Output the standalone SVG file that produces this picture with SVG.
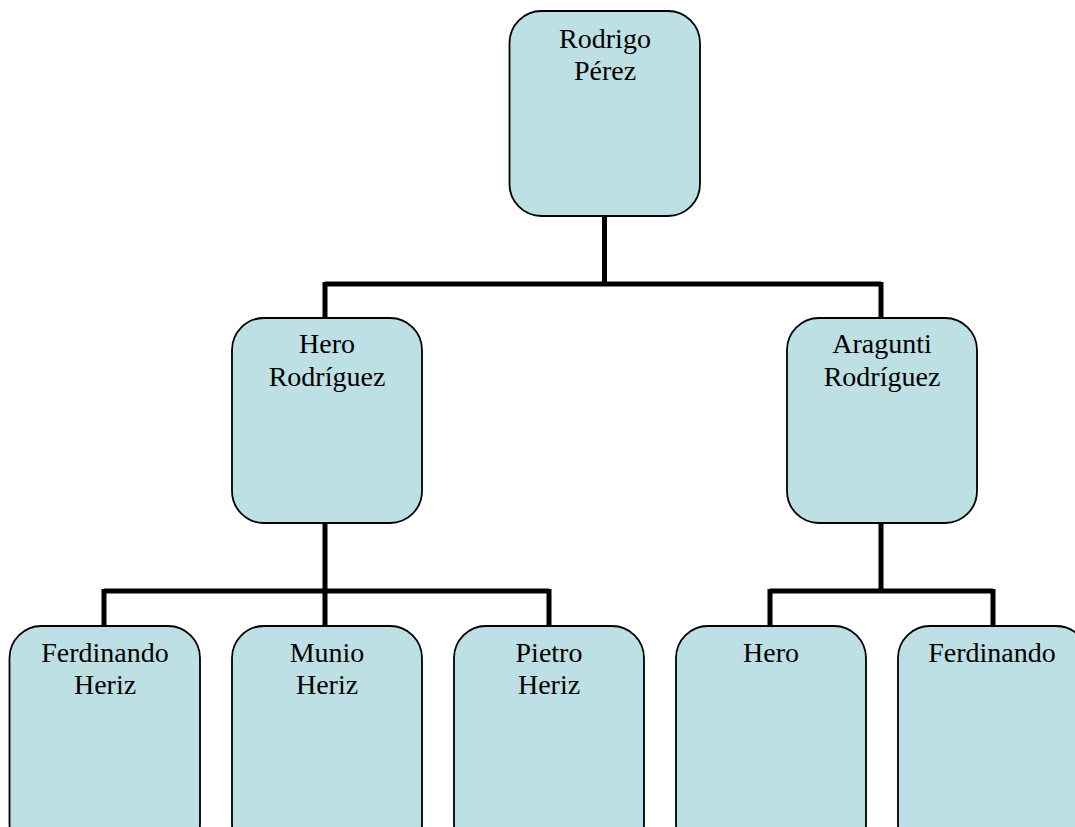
<svg xmlns="http://www.w3.org/2000/svg" width="1075" height="827" viewBox="0 0 1075 827">
  <style>
    .box { fill: #bce0e3; stroke: #000; stroke-width: 1.8; }
    .lbl { font-family: "Liberation Serif", "Times New Roman", serif; font-size: 28px; fill: #000; text-anchor: middle; }
    .wire { fill: none; stroke: #000; stroke-width: 5; stroke-linejoin: miter; stroke-linecap: butt; }
  </style>
  <rect width="1075" height="827" fill="#fff"/>

  <!-- tree connectors -->
  <g id="connectors">
    <path class="wire" d="M604.5,216 V284 M325,284 H881 M325,282 V318 M881,282 V318"/>
    <path class="wire" d="M325,523 V591 M104,591 H549 M104,589 V626 M325,589 V626 M549,589 V626"/>
    <path class="wire" d="M881,523 V591 M770,591 H993 M770,589 V626 M993,589 V626"/>
  </g>

  <g id="rodrigo-perez">
    <rect class="box" x="509.5" y="11" width="190.5" height="205" rx="32"/>
    <text class="lbl" x="605" y="48">Rodrigo</text>
    <text class="lbl" x="605" y="80">Pérez</text>
  </g>

  <g id="hero-rodriguez">
    <rect class="box" x="232" y="318" width="190" height="205" rx="32"/>
    <text class="lbl" x="327" y="353">Hero</text>
    <text class="lbl" x="327" y="386">Rodríguez</text>
  </g>

  <g id="aragunti-rodriguez">
    <rect class="box" x="787" y="318" width="190" height="205" rx="32"/>
    <text class="lbl" x="882" y="353">Aragunti</text>
    <text class="lbl" x="882" y="386">Rodríguez</text>
  </g>

  <g id="ferdinando-heriz">
    <rect class="box" x="9.5" y="626" width="190.5" height="230" rx="32"/>
    <text class="lbl" x="105" y="662">Ferdinando</text>
    <text class="lbl" x="105" y="694">Heriz</text>
  </g>

  <g id="munio-heriz">
    <rect class="box" x="232" y="626" width="190" height="230" rx="32"/>
    <text class="lbl" x="327" y="662">Munio</text>
    <text class="lbl" x="327" y="694">Heriz</text>
  </g>

  <g id="pietro-heriz">
    <rect class="box" x="454" y="626" width="190" height="230" rx="32"/>
    <text class="lbl" x="549" y="662">Pietro</text>
    <text class="lbl" x="549" y="694">Heriz</text>
  </g>

  <g id="hero">
    <rect class="box" x="676" y="626" width="190" height="230" rx="32"/>
    <text class="lbl" x="771" y="662">Hero</text>
  </g>

  <g id="ferdinando">
    <rect class="box" x="898" y="626" width="190" height="230" rx="32"/>
    <text class="lbl" x="992" y="662">Ferdinando</text>
  </g>
</svg>
